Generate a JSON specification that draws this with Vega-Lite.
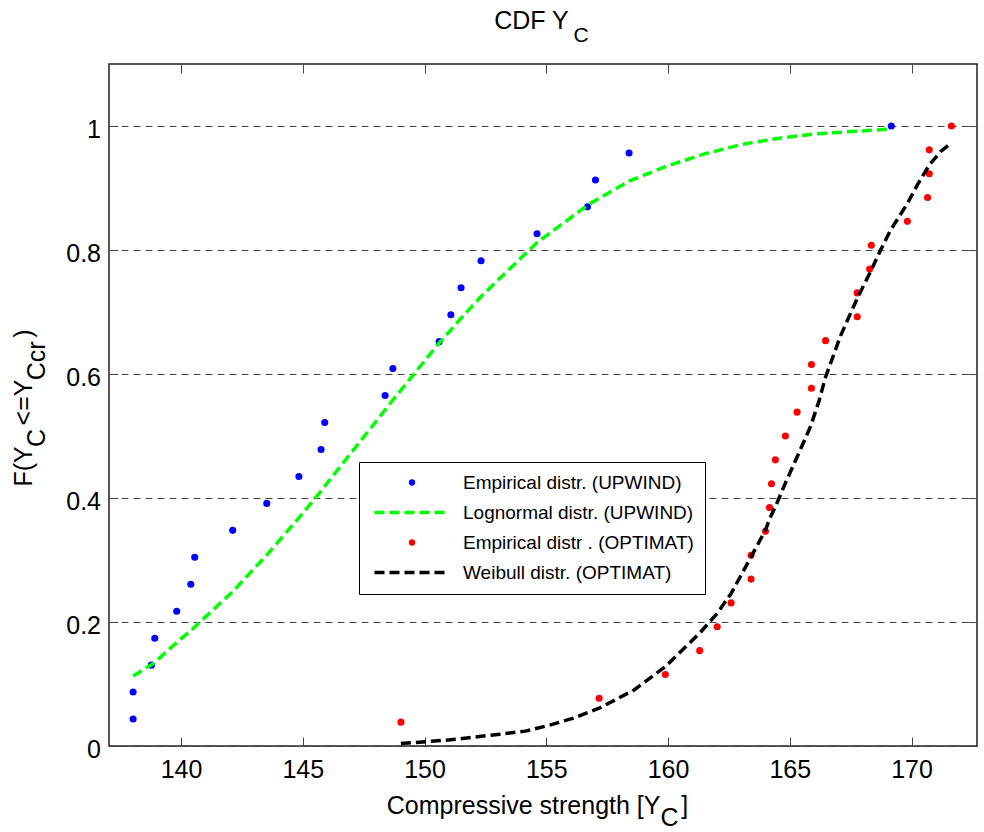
{
  "$schema": "https://vega.github.io/schema/vega-lite/v6.json",
  "width": 868,
  "height": 682,
  "autosize": {"type": "none"},
  "padding": {"left": 109, "top": 64, "right": 7, "bottom": 86},
  "background": "white",
  "config": {
    "font": "Liberation Sans",
    "view": {"stroke": "#222222", "strokeWidth": 1.5},
    "axis": {
      "labelFont": "Liberation Sans",
      "titleFont": "Liberation Sans",
      "labelFontSize": 25,
      "titleFontSize": 25,
      "titleFontWeight": "normal",
      "labelColor": "black",
      "titleColor": "black",
      "tickColor": "#444444",
      "tickWidth": 1,
      "tickSize": -9,
      "domain": false
    }
  },
  "title": {
    "text": "CDF Y",
    "subtitle": "\u200b\u00a0\u00a0\u00a0\u00a0\u00a0\u00a0\u00a0\u00a0\u00a0\u00a0\u00a0\u00a0\u00a0\u00a0\u00a0\u00a0\u00a0C",
    "font": "Liberation Sans",
    "subtitleFont": "Liberation Sans",
    "fontSize": 25,
    "subtitleFontSize": 21,
    "fontWeight": "normal",
    "color": "black",
    "subtitleColor": "black",
    "subtitlePadding": -9,
    "anchor": "middle",
    "frame": "group",
    "dx": -11.5,
    "offset": 18
  },
  "datasets": {
    "upwind": [
      {"series": "Empirical distr. (UPWIND)", "x": 138.03, "y": 0.0435},
      {"series": "Empirical distr. (UPWIND)", "x": 138.03, "y": 0.0870},
      {"series": "Empirical distr. (UPWIND)", "x": 138.78, "y": 0.1304},
      {"series": "Empirical distr. (UPWIND)", "x": 138.92, "y": 0.1739},
      {"series": "Empirical distr. (UPWIND)", "x": 139.82, "y": 0.2174},
      {"series": "Empirical distr. (UPWIND)", "x": 140.40, "y": 0.2609},
      {"series": "Empirical distr. (UPWIND)", "x": 140.56, "y": 0.3043},
      {"series": "Empirical distr. (UPWIND)", "x": 142.12, "y": 0.3478},
      {"series": "Empirical distr. (UPWIND)", "x": 143.52, "y": 0.3913},
      {"series": "Empirical distr. (UPWIND)", "x": 144.84, "y": 0.4348},
      {"series": "Empirical distr. (UPWIND)", "x": 145.75, "y": 0.4783},
      {"series": "Empirical distr. (UPWIND)", "x": 145.90, "y": 0.5217},
      {"series": "Empirical distr. (UPWIND)", "x": 148.38, "y": 0.5652},
      {"series": "Empirical distr. (UPWIND)", "x": 148.70, "y": 0.6087},
      {"series": "Empirical distr. (UPWIND)", "x": 150.60, "y": 0.6522},
      {"series": "Empirical distr. (UPWIND)", "x": 151.08, "y": 0.6957},
      {"series": "Empirical distr. (UPWIND)", "x": 151.50, "y": 0.7391},
      {"series": "Empirical distr. (UPWIND)", "x": 152.32, "y": 0.7826},
      {"series": "Empirical distr. (UPWIND)", "x": 154.62, "y": 0.8261},
      {"series": "Empirical distr. (UPWIND)", "x": 156.69, "y": 0.8696},
      {"series": "Empirical distr. (UPWIND)", "x": 157.02, "y": 0.9130},
      {"series": "Empirical distr. (UPWIND)", "x": 158.40, "y": 0.9565},
      {"series": "Empirical distr. (UPWIND)", "x": 169.17, "y": 1.0}
    ],
    "lognormal": [
      {"series": "Lognormal distr. (UPWIND)", "x": 138.03, "y": 0.113},
      {"series": "Lognormal distr. (UPWIND)", "x": 138.78, "y": 0.131},
      {"series": "Lognormal distr. (UPWIND)", "x": 138.92, "y": 0.135},
      {"series": "Lognormal distr. (UPWIND)", "x": 139.82, "y": 0.167},
      {"series": "Lognormal distr. (UPWIND)", "x": 140.40, "y": 0.186},
      {"series": "Lognormal distr. (UPWIND)", "x": 140.56, "y": 0.192},
      {"series": "Lognormal distr. (UPWIND)", "x": 142.12, "y": 0.249},
      {"series": "Lognormal distr. (UPWIND)", "x": 143.52, "y": 0.308},
      {"series": "Lognormal distr. (UPWIND)", "x": 144.84, "y": 0.368},
      {"series": "Lognormal distr. (UPWIND)", "x": 145.75, "y": 0.411},
      {"series": "Lognormal distr. (UPWIND)", "x": 145.90, "y": 0.419},
      {"series": "Lognormal distr. (UPWIND)", "x": 148.38, "y": 0.542},
      {"series": "Lognormal distr. (UPWIND)", "x": 148.70, "y": 0.558},
      {"series": "Lognormal distr. (UPWIND)", "x": 150.60, "y": 0.650},
      {"series": "Lognormal distr. (UPWIND)", "x": 151.08, "y": 0.671},
      {"series": "Lognormal distr. (UPWIND)", "x": 151.50, "y": 0.690},
      {"series": "Lognormal distr. (UPWIND)", "x": 152.32, "y": 0.725},
      {"series": "Lognormal distr. (UPWIND)", "x": 154.62, "y": 0.812},
      {"series": "Lognormal distr. (UPWIND)", "x": 156.69, "y": 0.872},
      {"series": "Lognormal distr. (UPWIND)", "x": 157.02, "y": 0.880},
      {"series": "Lognormal distr. (UPWIND)", "x": 158.40, "y": 0.911},
      {"series": "Lognormal distr. (UPWIND)", "x": 160.00, "y": 0.936},
      {"series": "Lognormal distr. (UPWIND)", "x": 161.50, "y": 0.955},
      {"series": "Lognormal distr. (UPWIND)", "x": 163.00, "y": 0.970},
      {"series": "Lognormal distr. (UPWIND)", "x": 164.50, "y": 0.980},
      {"series": "Lognormal distr. (UPWIND)", "x": 166.00, "y": 0.987},
      {"series": "Lognormal distr. (UPWIND)", "x": 167.50, "y": 0.991},
      {"series": "Lognormal distr. (UPWIND)", "x": 169.17, "y": 0.995}
    ],
    "optimat": [
      {"series": "Empirical distr . (OPTIMAT)", "x": 149.03, "y": 0.0385},
      {"series": "Empirical distr . (OPTIMAT)", "x": 157.17, "y": 0.0769},
      {"series": "Empirical distr . (OPTIMAT)", "x": 159.89, "y": 0.1154},
      {"series": "Empirical distr . (OPTIMAT)", "x": 161.30, "y": 0.1538},
      {"series": "Empirical distr . (OPTIMAT)", "x": 162.02, "y": 0.1923},
      {"series": "Empirical distr . (OPTIMAT)", "x": 162.59, "y": 0.2308},
      {"series": "Empirical distr . (OPTIMAT)", "x": 163.41, "y": 0.2692},
      {"series": "Empirical distr . (OPTIMAT)", "x": 163.41, "y": 0.3077},
      {"series": "Empirical distr . (OPTIMAT)", "x": 164.00, "y": 0.3462},
      {"series": "Empirical distr . (OPTIMAT)", "x": 164.17, "y": 0.3846},
      {"series": "Empirical distr . (OPTIMAT)", "x": 164.25, "y": 0.4231},
      {"series": "Empirical distr . (OPTIMAT)", "x": 164.41, "y": 0.4615},
      {"series": "Empirical distr . (OPTIMAT)", "x": 164.82, "y": 0.5000},
      {"series": "Empirical distr . (OPTIMAT)", "x": 165.30, "y": 0.5385},
      {"series": "Empirical distr . (OPTIMAT)", "x": 165.89, "y": 0.5769},
      {"series": "Empirical distr . (OPTIMAT)", "x": 165.89, "y": 0.6154},
      {"series": "Empirical distr . (OPTIMAT)", "x": 166.47, "y": 0.6538},
      {"series": "Empirical distr . (OPTIMAT)", "x": 167.77, "y": 0.6923},
      {"series": "Empirical distr . (OPTIMAT)", "x": 167.77, "y": 0.7308},
      {"series": "Empirical distr . (OPTIMAT)", "x": 168.28, "y": 0.7692},
      {"series": "Empirical distr . (OPTIMAT)", "x": 168.35, "y": 0.8077},
      {"series": "Empirical distr . (OPTIMAT)", "x": 169.83, "y": 0.8462},
      {"series": "Empirical distr . (OPTIMAT)", "x": 170.66, "y": 0.8846},
      {"series": "Empirical distr . (OPTIMAT)", "x": 170.73, "y": 0.9231},
      {"series": "Empirical distr . (OPTIMAT)", "x": 170.73, "y": 0.9615},
      {"series": "Empirical distr . (OPTIMAT)", "x": 171.64, "y": 1.0}
    ],
    "weibull": [
      {"series": "Weibull distr. (OPTIMAT)", "x": 149.03, "y": 0.004},
      {"series": "Weibull distr. (OPTIMAT)", "x": 151.06, "y": 0.010},
      {"series": "Weibull distr. (OPTIMAT)", "x": 153.11, "y": 0.019},
      {"series": "Weibull distr. (OPTIMAT)", "x": 154.14, "y": 0.024},
      {"series": "Weibull distr. (OPTIMAT)", "x": 155.17, "y": 0.034},
      {"series": "Weibull distr. (OPTIMAT)", "x": 156.12, "y": 0.045},
      {"series": "Weibull distr. (OPTIMAT)", "x": 157.17, "y": 0.061},
      {"series": "Weibull distr. (OPTIMAT)", "x": 158.59, "y": 0.090},
      {"series": "Weibull distr. (OPTIMAT)", "x": 159.89, "y": 0.128},
      {"series": "Weibull distr. (OPTIMAT)", "x": 161.30, "y": 0.182},
      {"series": "Weibull distr. (OPTIMAT)", "x": 162.02, "y": 0.214},
      {"series": "Weibull distr. (OPTIMAT)", "x": 162.59, "y": 0.246},
      {"series": "Weibull distr. (OPTIMAT)", "x": 163.41, "y": 0.305},
      {"series": "Weibull distr. (OPTIMAT)", "x": 164.00, "y": 0.348},
      {"series": "Weibull distr. (OPTIMAT)", "x": 164.17, "y": 0.366},
      {"series": "Weibull distr. (OPTIMAT)", "x": 164.41, "y": 0.386},
      {"series": "Weibull distr. (OPTIMAT)", "x": 164.82, "y": 0.424},
      {"series": "Weibull distr. (OPTIMAT)", "x": 165.30, "y": 0.466},
      {"series": "Weibull distr. (OPTIMAT)", "x": 165.85, "y": 0.515},
      {"series": "Weibull distr. (OPTIMAT)", "x": 166.19, "y": 0.555},
      {"series": "Weibull distr. (OPTIMAT)", "x": 166.47, "y": 0.595},
      {"series": "Weibull distr. (OPTIMAT)", "x": 167.09, "y": 0.662},
      {"series": "Weibull distr. (OPTIMAT)", "x": 167.77, "y": 0.722},
      {"series": "Weibull distr. (OPTIMAT)", "x": 168.28, "y": 0.762},
      {"series": "Weibull distr. (OPTIMAT)", "x": 168.73, "y": 0.800},
      {"series": "Weibull distr. (OPTIMAT)", "x": 169.14, "y": 0.832},
      {"series": "Weibull distr. (OPTIMAT)", "x": 169.83, "y": 0.875},
      {"series": "Weibull distr. (OPTIMAT)", "x": 170.24, "y": 0.905},
      {"series": "Weibull distr. (OPTIMAT)", "x": 170.73, "y": 0.937},
      {"series": "Weibull distr. (OPTIMAT)", "x": 171.20, "y": 0.959},
      {"series": "Weibull distr. (OPTIMAT)", "x": 171.64, "y": 0.973}
    ]
  },
  "resolve": {"axis": {"x": "independent", "y": "independent"}},
  "layer": [
    {
      "data": {"name": "upwind"},
      "mark": {"type": "circle", "size": 50, "opacity": 1},
      "encoding": {
        "x": {
          "field": "x", "type": "quantitative",
          "scale": {"domain": [137.04, 172.69], "nice": false, "zero": false},
          "axis": {
            "orient": "bottom",
            "values": [140, 145, 150, 155, 160, 165, 170],
            "grid": false,
            "labelPadding": 20.5,
            "title": ["Compressive strength [Y\u00a0\u00a0\u00a0]", "\u200b\u00a0\u00a0\u00a0\u00a0\u00a0\u00a0\u00a0\u00a0\u00a0\u00a0\u00a0\u00a0\u00a0\u00a0\u00a0\u00a0\u00a0\u00a0\u00a0\u00a0\u00a0\u00a0\u00a0\u00a0\u00a0\u00a0\u00a0\u00a0\u00a0\u00a0\u00a0\u00a0\u00a0\u00a0\u00a0\u00a0\u00a0\u00a0C"],
            "titleLineHeight": 12,
            "titleBaseline": "alphabetic",
            "titleAlign": "center",
            "titleX": 428,
            "titleY": 67.5
          }
        },
        "y": {
          "field": "y", "type": "quantitative",
          "scale": {"domain": [0, 1.1], "nice": false, "zero": false},
          "axis": {
            "orient": "left",
            "values": [0, 0.2, 0.4, 0.6, 0.8, 1],
            "format": "~g",
            "grid": true,
            "gridColor": "#444444",
            "gridDash": [7, 5],
            "gridWidth": 1,
            "gridOpacity": 1,
            "labelPadding": 17.5,
            "labelOffset": 3,
            "title": ["F(Y\u00a0\u00a0\u00a0<=Y\u00a0\u00a0\u00a0\u00a0\u00a0\u00a0)", "\u200b\u00a0\u00a0\u00a0\u00a0C\u00a0\u00a0\u00a0\u00a0\u00a0\u00a0\u00a0Ccr"],
            "titleLineHeight": 13,
            "titleBaseline": "alphabetic",
            "titleAlign": "center",
            "titleAngle": 270,
            "titleX": -77.3,
            "titleY": 343.5
          }
        },
        "color": {
          "field": "series", "type": "nominal",
          "scale": {
            "domain": ["Empirical distr. (UPWIND)", "Lognormal distr. (UPWIND)", "Empirical distr . (OPTIMAT)", "Weibull distr. (OPTIMAT)"],
            "range": ["#0000ff", "#00ff00", "#ff0000", "#000000"]
          },
          "legend": {
            "orient": "none",
            "legendX": 250,
            "legendY": 398,
            "title": null,
            "padding": 11,
            "rowPadding": 10,
            "strokeColor": "black",
            "fillColor": "white",
            "labelFont": "Liberation Sans",
            "labelFontSize": 19,
            "labelColor": "black",
            "labelLimit": 400,
            "labelOffset": 41.5,
            "symbolSize": 100,
            "symbolOffset": 32.5,
            "symbolStrokeWidth": 3.5,
            "symbolOpacity": 1,
            "encode": {
              "symbols": {
                "update": {
                  "shape": {"signal": "(datum.value == 'Lognormal distr. (UPWIND)' || datum.value == 'Weibull distr. (OPTIMAT)') ? 'M-7.5,0H7.5' : 'circle'"},
                  "size": {"signal": "(datum.value == 'Lognormal distr. (UPWIND)' || datum.value == 'Weibull distr. (OPTIMAT)') ? 100 : 40"},
                  "strokeDash": {"signal": "(datum.value == 'Lognormal distr. (UPWIND)' || datum.value == 'Weibull distr. (OPTIMAT)') ? [10, 5] : [1, 0]"},
                  "fill": {"signal": "(datum.value == 'Lognormal distr. (UPWIND)' || datum.value == 'Weibull distr. (OPTIMAT)') ? 'transparent' : scale('color', datum.value)"},
                  "stroke": {"signal": "(datum.value == 'Lognormal distr. (UPWIND)' || datum.value == 'Weibull distr. (OPTIMAT)') ? scale('color', datum.value) : 'transparent'"},
                  "strokeWidth": {"signal": "(datum.value == 'Lognormal distr. (UPWIND)' || datum.value == 'Weibull distr. (OPTIMAT)') ? 3.5 : 0"},
                  "opacity": {"value": 1}
                }
              }
            }
          }
        }
      }
    },
    {
      "data": {"name": "lognormal"},
      "mark": {"type": "line", "strokeWidth": 3.5, "strokeDash": [10, 5]},
      "encoding": {
        "x": {
          "field": "x", "type": "quantitative",
          "axis": {"orient": "top", "values": [140, 145, 150, 155, 160, 165, 170], "labels": false, "title": null, "grid": false}
        },
        "y": {
          "field": "y", "type": "quantitative",
          "axis": {"orient": "right", "values": [0, 0.2, 0.4, 0.6, 0.8, 1], "labels": false, "title": null, "grid": false}
        },
        "color": {"field": "series", "type": "nominal"}
      }
    },
    {
      "data": {"name": "optimat"},
      "mark": {"type": "circle", "size": 50, "opacity": 1},
      "encoding": {
        "x": {"field": "x", "type": "quantitative", "axis": null},
        "y": {"field": "y", "type": "quantitative", "axis": null},
        "color": {"field": "series", "type": "nominal"}
      }
    },
    {
      "data": {"name": "weibull"},
      "mark": {"type": "line", "strokeWidth": 3.5, "strokeDash": [10, 5]},
      "encoding": {
        "x": {"field": "x", "type": "quantitative", "axis": null},
        "y": {"field": "y", "type": "quantitative", "axis": null},
        "color": {"field": "series", "type": "nominal"}
      }
    }
  ]
}
